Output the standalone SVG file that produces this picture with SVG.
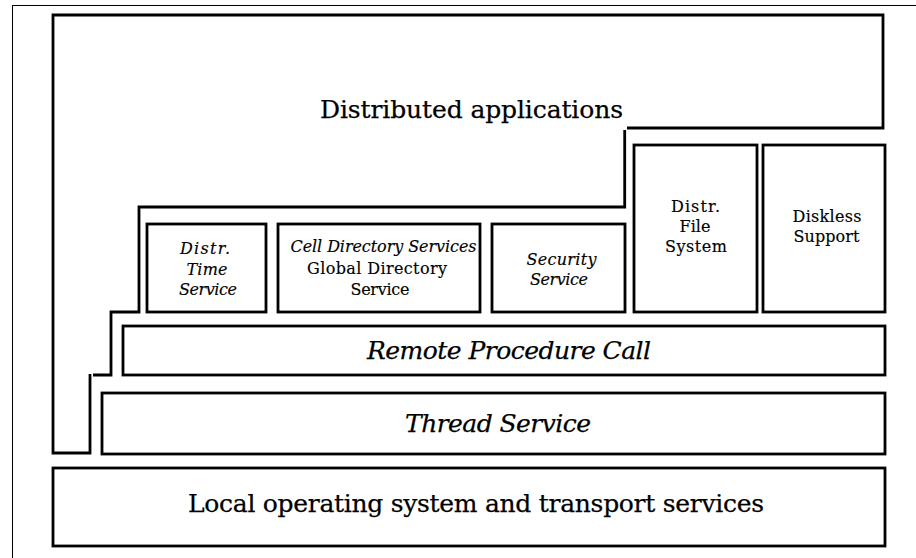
<svg xmlns="http://www.w3.org/2000/svg" width="916" height="558" viewBox="0 0 916 558">
<style>
.box{fill:none;stroke:#000;stroke-width:2.8}
.t{font-family:"DejaVu Serif","Liberation Serif",serif;fill:#000;text-anchor:middle;stroke:#000;stroke-width:0.25}
.big{font-size:25px}
.sm{font-size:16px;stroke-width:0.15}
.it{font-style:italic}
</style>
<rect width="916" height="558" fill="#fff"/>
<rect x="12.5" y="5.5" width="920" height="560" fill="none" stroke="#000" stroke-width="1"/>
<g id="distributed-applications">
<path class="box" d="M624.7 130 V207 H139 V312 H111 V375 H93"/>
<path class="box" d="M90 374 V453 H53 V15 H883 V128 H627"/>
<text class="t big" x="471.5" y="118" textLength="303">Distributed applications</text>
</g>
<g id="time-service">
<rect class="box" x="147" y="224" width="119" height="88"/>
<text class="t sm it" x="205" y="254" textLength="50">Distr.</text>
<text class="t sm it" x="207" y="275" textLength="41">Time</text>
<text class="t sm it" x="208" y="295" textLength="58">Service</text>
</g>
<g id="directory-services">
<rect class="box" x="278" y="224" width="202" height="88"/>
<text class="t sm it" x="383.5" y="252" textLength="186">Cell Directory Services</text>
<text class="t sm" x="377" y="274" textLength="140">Global Directory</text>
<text class="t sm" x="380" y="295" textLength="59">Service</text>
</g>
<g id="security-service">
<rect class="box" x="492" y="224" width="133" height="88"/>
<text class="t sm it" x="561.5" y="265" textLength="70">Security</text>
<text class="t sm it" x="559" y="285" textLength="58">Service</text>
</g>
<g id="file-system">
<rect class="box" x="634" y="145" width="123" height="167"/>
<text class="t sm" x="695.5" y="212" textLength="49">Distr.</text>
<text class="t sm" x="695" y="232" textLength="31">File</text>
<text class="t sm" x="696" y="252" textLength="62">System</text>
</g>
<g id="diskless-support">
<rect class="box" x="763" y="145" width="122" height="167"/>
<text class="t sm" x="827" y="222" textLength="69">Diskless</text>
<text class="t sm" x="826.5" y="242" textLength="66">Support</text>
</g>
<g id="rpc">
<rect class="box" x="123" y="326" width="762" height="49"/>
<text class="t big it" x="509" y="359" textLength="284">Remote Procedure Call</text>
</g>
<g id="thread-service">
<rect class="box" x="102" y="393" width="783" height="61"/>
<text class="t big it" x="498" y="432" textLength="186">Thread Service</text>
</g>
<g id="local-os">
<rect class="box" x="53" y="468" width="832" height="78"/>
<text class="t big" x="476" y="512" textLength="576">Local operating system and transport services</text>
</g>
<g id="connectors"></g>
</svg>
